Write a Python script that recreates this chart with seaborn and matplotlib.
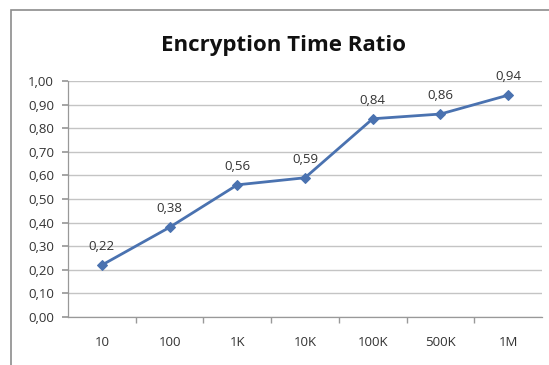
import matplotlib
matplotlib.use("Agg")
import matplotlib.pyplot as plt
import seaborn as sns
import pandas as pd
from matplotlib.patches import Rectangle
from matplotlib.ticker import FixedLocator, FuncFormatter

categories = ["10", "100", "1K", "10K", "100K", "500K", "1M"]
ratios = [0.22, 0.38, 0.56, 0.59, 0.84, 0.86, 0.94]
yticks = [0.0, 0.1, 0.2, 0.3, 0.4, 0.5, 0.6, 0.7, 0.8, 0.9, 1.0]

sns.set_theme(style="white")
plt.rcParams['font.family'] = ['Open Sans', 'DejaVu Sans']

df = pd.DataFrame({"size": categories, "ratio": ratios})
fig = plt.figure(figsize=(5.49, 3.65), dpi=100)
fig.patch.set_facecolor("white")
# chart border
fig.patches.append(Rectangle((11/549, -0.1), 1.2, 1 - 10/365 + 0.1, transform=fig.transFigure,
                             fill=False, edgecolor="#8c8c8c", linewidth=1.2))
ax = fig.add_axes([68/549, 1 - 317/365, 474/549, 236/365])
pos = list(range(len(categories)))
sns.lineplot(x=pos, y=ratios, ax=ax, color="#4a72b0", linewidth=2, marker="D",
             markersize=5, markeredgecolor="#4a72b0")
for i, v in enumerate(ratios):
    ax.annotate(f"{v:.2f}".replace(".", ","), (i, v), textcoords="offset pixels",
                xytext=(0, 12), ha="center", va="bottom", fontsize=9.5, color="#333333")
ax.set_xlim(-0.5, len(categories) - 0.5)
ax.set_ylim(0, 1.0)
ax.set_yticks(yticks)
ax.yaxis.set_major_formatter(FuncFormatter(lambda v, p: f"{v:.2f}".replace(".", ",")))
ax.set_xticks(pos)
ax.set_xticklabels(categories)
ax.xaxis.set_minor_locator(FixedLocator([p + 0.5 for p in pos[:-1]]))
ax.tick_params(axis="x", which="major", length=0, pad=14, labelsize=9.5, colors="#333333")
ax.tick_params(axis="x", which="minor", length=4, color="#999999", direction="out", bottom=True)
ax.tick_params(axis="y", which="major", length=4, color="#999999", direction="out", left=True,
               labelsize=9.5, labelcolor="#333333", pad=6)
ax.grid(axis="y", color="#c4c4c4", linewidth=1.0)
ax.set_axisbelow(True)
for s in ["top", "right"]:
    ax.spines[s].set_visible(False)
for s in ["left", "bottom"]:
    ax.spines[s].set_color("#999999")
    ax.spines[s].set_linewidth(0.9)
ax.set_xlabel("")
ax.set_ylabel("")
fig.text(283/549, 1 - 46/365, "Encryption Time Ratio", ha="center", va="center",
         fontsize=16, fontweight="bold", color="#111111")
fig.savefig("out.png", dpi=100)
